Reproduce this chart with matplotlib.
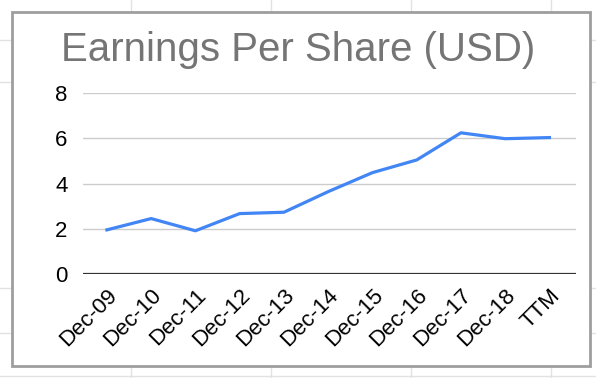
import matplotlib.pyplot as plt
from matplotlib.lines import Line2D
from matplotlib.patches import Rectangle

periods = ['Dec-09', 'Dec-10', 'Dec-11', 'Dec-12', 'Dec-13', 'Dec-14',
           'Dec-15', 'Dec-16', 'Dec-17', 'Dec-18', 'TTM']
eps = [1.95, 2.45, 1.91, 2.67, 2.73, 3.64, 4.48, 5.04, 6.24, 5.98, 6.03]
yticks = [0, 2, 4, 6, 8]

plt.rcParams['font.family'] = ['Liberation Sans', 'DejaVu Sans']

fig = plt.figure(figsize=(5.96, 3.78), dpi=100)
W, H = 596.0, 378.0

# spreadsheet cell grid behind the chart
for x in [131, 271, 411, 551]:
    fig.add_artist(Line2D([x / W, x / W], [0, 1], color='#e2e2e2', lw=1, zorder=-3))
for y in [40, 82, 288, 333, 376]:
    fig.add_artist(Line2D([0, 1], [1 - y / H, 1 - y / H], color='#e2e2e2', lw=1, zorder=-3))

# chart frame
fig.add_artist(Rectangle((12 / W, 1 - 366 / H), (590 - 12) / W, (366 - 12) / H,
                         facecolor='white', edgecolor='#9e9e9e', lw=2, zorder=-2))

ax = fig.add_axes([83 / W, 1 - 274 / H, (576 - 83) / W, (274 - 93) / H])
ax.set_facecolor('none')
x = list(range(len(periods)))
ax.plot(x, eps, color='#4285f4', lw=2.3, solid_joinstyle='round', zorder=3)

ax.set_ylim(0, 8)
ax.set_xlim(-0.54, 10.6)
ax.set_yticks(yticks)
ax.set_yticklabels([str(v) for v in yticks], fontsize=16)
ax.set_xticks(x)
ax.set_xticklabels(periods, fontsize=16, rotation=45, ha='right', rotation_mode='anchor')
ax.tick_params(axis='both', length=0, colors='black')
ax.tick_params(axis='y', pad=11)
ax.tick_params(axis='x', pad=8)
ax.grid(axis='y', color='#cccccc', lw=1)
ax.axhline(0, color='#333333', lw=1.6, zorder=2)
for s in ax.spines.values():
    s.set_visible(False)

fig.text(0.5, 1 - 50 / H, 'Earnings Per Share (USD)', ha='center', va='center',
         fontsize=29, color='#757575')

fig.savefig('out.png', dpi=100)
